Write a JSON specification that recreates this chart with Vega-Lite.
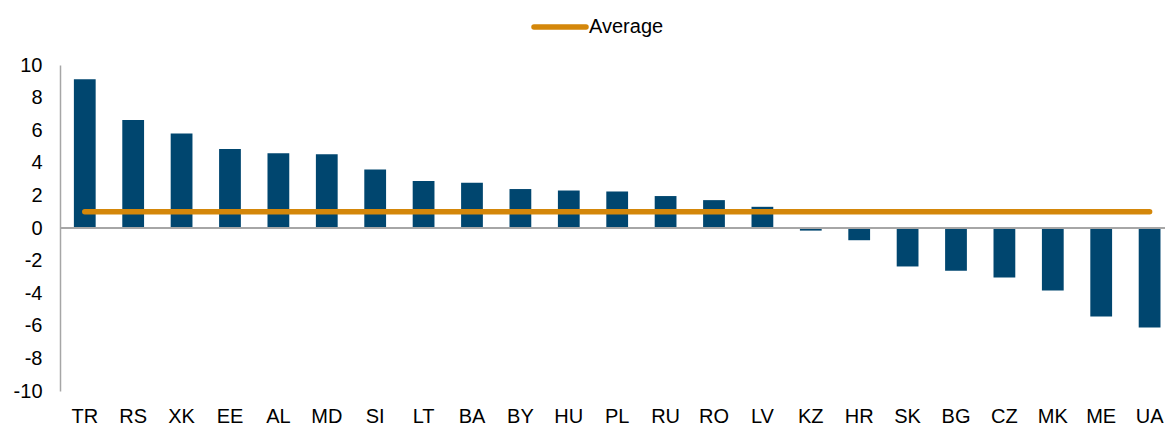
{
  "$schema": "https://vega.github.io/schema/vega-lite/v6.json",
  "autosize": {"type": "none"},
  "width": 1105,
  "height": 326,
  "padding": {"left": 60, "top": 65, "right": 0, "bottom": 34},
  "background": "white",
  "config": {
    "view": {"stroke": null},
    "font": "Liberation Sans",
    "axis": {"labelFont": "Liberation Sans", "labelFontSize": 20, "labelColor": "#000000"},
    "axisY": {
      "labelOverlap": false,
      "grid": false,
      "ticks": false,
      "domain": true,
      "domainColor": "#A6A6A6",
      "domainWidth": 1.5,
      "labelPadding": 18,
      "title": null
    }
  },
  "data": {
    "values": [
      {"country": "TR", "value": 9.12},
      {"country": "RS", "value": 6.63},
      {"country": "XK", "value": 5.79},
      {"country": "EE", "value": 4.84},
      {"country": "AL", "value": 4.59},
      {"country": "MD", "value": 4.53},
      {"country": "SI", "value": 3.59},
      {"country": "LT", "value": 2.88},
      {"country": "BA", "value": 2.77},
      {"country": "BY", "value": 2.39},
      {"country": "HU", "value": 2.3},
      {"country": "PL", "value": 2.24},
      {"country": "RU", "value": 1.96},
      {"country": "RO", "value": 1.71},
      {"country": "LV", "value": 1.3},
      {"country": "KZ", "value": -0.16},
      {"country": "HR", "value": -0.75},
      {"country": "SK", "value": -2.36},
      {"country": "BG", "value": -2.63},
      {"country": "CZ", "value": -3.04},
      {"country": "MK", "value": -3.83},
      {"country": "ME", "value": -5.43},
      {"country": "UA", "value": -6.1}
    ]
  },
  "encoding": {
    "x": {
      "field": "country",
      "type": "nominal",
      "sort": null,
      "title": null,
      "scale": {"paddingInner": 0.55, "paddingOuter": 0.19, "align": 0.755},
      "axis": {"domain": false, "ticks": false, "labelAngle": 0, "labelPadding": 15}
    }
  },
  "layer": [
    {
      "mark": {"type": "bar", "color": "#00466F"},
      "encoding": {
        "y": {
          "field": "value",
          "type": "quantitative",
          "title": null,
          "scale": {"domain": [-10, 10], "nice": false},
          "axis": {
            "values": [-10, -8, -6, -4, -2, 0, 2, 4, 6, 8, 10],
            "labelExpr": "'' + datum.value",
            "labelOverlap": false
          }
        }
      }
    },
    {
      "mark": {"type": "rule", "color": "#A6A6A6", "strokeWidth": 1.5},
      "encoding": {
        "y": {
          "datum": 0,
          "type": "quantitative",
          "axis": {
            "values": [-10, -8, -6, -4, -2, 0, 2, 4, 6, 8, 10],
            "labelExpr": "'' + datum.value",
            "labelOverlap": false
          }
        },
        "x": null
      }
    },
    {
      "mark": {"type": "line", "strokeWidth": 5.5, "strokeCap": "round"},
      "encoding": {
        "y": {
          "datum": 1,
          "type": "quantitative",
          "axis": {
            "values": [-10, -8, -6, -4, -2, 0, 2, 4, 6, 8, 10],
            "labelExpr": "'' + datum.value",
            "labelOverlap": false
          }
        },
        "color": {
          "datum": "Average",
          "scale": {"range": ["#D4870A"]},
          "legend": {
            "title": null,
            "orient": "none",
            "legendX": 471,
            "legendY": -67,
            "padding": 0,
            "symbolType": "stroke",
            "symbolSize": 2704,
            "symbolStrokeWidth": 5.5,
            "labelFont": "Liberation Sans",
            "labelFontSize": 20,
            "labelColor": "#000000",
            "labelOffset": 0,
            "encode": {"symbols": {"update": {"strokeCap": {"value": "round"}}}}
          }
        }
      }
    }
  ]
}
